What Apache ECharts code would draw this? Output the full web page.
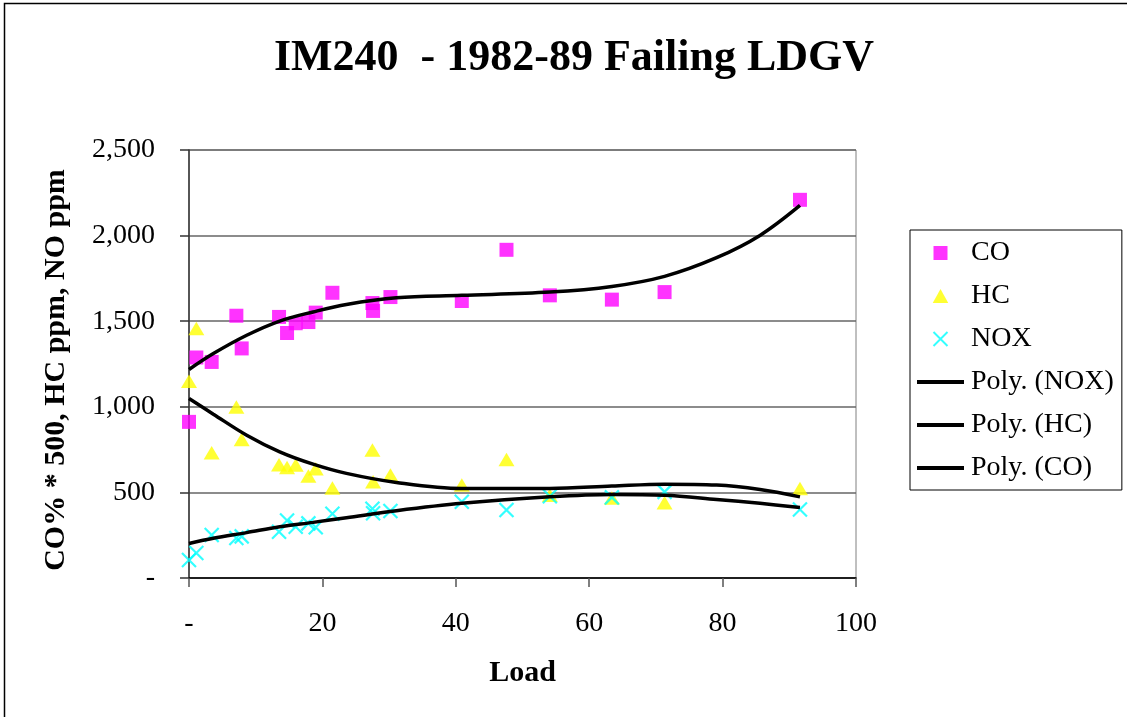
<!DOCTYPE html>
<html><head><meta charset="utf-8">
<script src="https://cdn.jsdelivr.net/npm/echarts@6/dist/echarts.min.js"></script>
<style>html,body{margin:0;padding:0;background:#fff}#c{width:1127px;height:717px}</style>
</head><body><div id="c"></div>
<script>
// Scatter data (Load vs. values)
var loadX = [0, 1.1, 3.4, 7.1, 7.9, 13.5, 14.7, 16.0, 17.9, 19.0, 21.5, 27.5, 27.6, 30.2, 40.9, 47.6, 54.1, 63.4, 71.3, 91.6];
var coVals = [912, 1288, 1262, 1532, 1341, 1525, 1431, 1488, 1495, 1550, 1666, 1606, 1560, 1641, 1618, 1917, 1651, 1626, 1670, 2209];
var hcVals = [1149, 1457, 731, 999, 809, 661, 645, 660, 596, 638, 525, 747, 562, 601, 543, 692, 484, 468, 439, 523];
var noxVals = [105, 146, 251, 234, 243, 270, 336, 299, 319, 296, 375, 405, 378, 391, 445, 397, 478, 471, 503, 400];
// Trend curves
var trendX = [0, 3.65, 8.65, 13.6, 18.6, 23.6, 31.1, 40.9, 54.1, 63.4, 71.3, 79.1, 85.6, 91.6];
var coTrend = [1218, 1311, 1418, 1501, 1554, 1598, 1637, 1651, 1670, 1703, 1762, 1871, 2001, 2176];
var hcTrend = [1048, 957, 834, 737, 665, 611, 558, 523, 523, 537, 548, 543, 517, 474];
var noxTrend = [202, 232, 265, 299, 325, 352, 393, 436, 474, 488, 484, 459, 436, 412];
// Axis ticks
var xTicks = [0, 20, 40, 60, 80, 100];
var yTicks = [0, 500, 1000, 1500, 2000, 2500];
var legendNames = ['CO', 'HC', 'NOX', 'Poly. (NOX)', 'Poly. (HC)', 'Poly. (CO)'];

function pairs(xs, ys) { return xs.map(function (x, i) { return [x, ys[i]]; }); }
function commas(v) { return String(v).replace(/\B(?=(\d{3})+(?!\d))/g, ','); }

var lineIcon = 'path://M0,0H47V4H0Z';
var serif = '"Liberation Serif", "Times New Roman", serif';
var chart = echarts.init(document.getElementById('c'), null, { renderer: 'canvas' });
chart.setOption({
  backgroundColor: '#fff',
  animation: false,
  title: {
    text: 'IM240  - 1982-89 Failing LDGV',
    left: 569, top: 32, textAlign: 'center',
    textStyle: { fontFamily: serif, fontSize: 44, fontWeight: 'bold', color: '#000' }
  },
  graphic: [{
    type: 'rect', silent: true, z: -10,
    shape: { x: 4.5, y: 3.5, width: 1135, height: 730 },
    style: { fill: null, stroke: '#000', lineWidth: 1.5 }
  }],
  legend: {
    orient: 'vertical', left: 910, top: 230,
    padding: [9, 8, 8, 7],
    itemWidth: 47, itemHeight: 14, itemGap: 15,
    borderColor: '#000', borderWidth: 1,
    data: legendNames.map(function (n, i) { return i < 3 ? { name: n } : { name: n, icon: lineIcon }; }),
    textStyle: { fontFamily: serif, fontSize: 28, lineHeight: 28, color: '#000', padding: [0, 0, 0, 2] }
  },
  grid: {
    left: 189, right: 271, top: 150, bottom: 139,
    show: true, borderColor: '#808080', borderWidth: 1, backgroundColor: '#fff'
  },
  xAxis: {
    type: 'value', min: xTicks[0], max: xTicks[xTicks.length - 1], interval: 20,
    name: 'Load', nameLocation: 'middle', nameGap: 80,
    nameTextStyle: { fontFamily: serif, fontSize: 30, fontWeight: 'bold', color: '#000' },
    axisLine: { onZero: false, lineStyle: { color: '#000', width: 1.5 } },
    axisTick: { show: true, inside: false, length: 9, lineStyle: { color: '#555', width: 1.5 } },
    axisLabel: { margin: 32, fontFamily: serif, fontSize: 28, color: '#000',
      formatter: function (v) { return v === 0 ? '-' : String(v); } },
    splitLine: { show: false }
  },
  yAxis: {
    type: 'value', min: yTicks[0], max: yTicks[yTicks.length - 1], interval: 500,
    name: 'CO% * 500, HC ppm, NO ppm', nameLocation: 'middle', nameGap: 118, nameRotate: 90,
    nameTextStyle: { fontFamily: serif, fontSize: 30, fontWeight: 'bold', color: '#000', padding: [0, 12, 0, 0] },
    axisLine: { show: true, onZero: false, lineStyle: { color: '#333', width: 1.5 } },
    axisTick: { show: true, inside: false, length: 9, lineStyle: { color: '#333', width: 1.5 } },
    axisLabel: { margin: 34, fontFamily: serif, fontSize: 28, color: '#000',
      formatter: function (v) { return v === 0 ? '-' : commas(v); } },
    splitLine: { show: true, lineStyle: { color: '#666', width: 1.5 } }
  },
  series: [
    { name: 'CO', type: 'scatter', data: pairs(loadX, coVals),
      symbol: 'path://M0,0H10V10H0Z', symbolSize: 14, symbolKeepAspect: true,
      itemStyle: { color: '#FF00FF' }, z: 3 },
    { name: 'HC', type: 'scatter', data: pairs(loadX, hcVals),
      symbol: 'path://M5,0L10,9H0Z', symbolSize: [16, 15], symbolKeepAspect: true,
      itemStyle: { color: '#FFFF00' }, z: 3 },
    { name: 'NOX', type: 'scatter', data: pairs(loadX, noxVals),
      symbol: 'path://M0,0L10,10M10,0L0,10', symbolSize: 14, symbolKeepAspect: true,
      itemStyle: { color: '#00FFFF', borderColor: '#00FFFF', borderWidth: 2.2 }, z: 3 },
    { name: 'Poly. (NOX)', type: 'line', data: pairs(trendX, noxTrend), smooth: 0.35,
      symbol: 'none', showSymbol: false, lineStyle: { color: '#000', width: 3.5 }, itemStyle: { color: '#000' }, z: 4 },
    { name: 'Poly. (HC)', type: 'line', data: pairs(trendX, hcTrend), smooth: 0.35,
      symbol: 'none', showSymbol: false, lineStyle: { color: '#000', width: 3.5 }, itemStyle: { color: '#000' }, z: 4 },
    { name: 'Poly. (CO)', type: 'line', data: pairs(trendX, coTrend), smooth: 0.35,
      symbol: 'none', showSymbol: false, lineStyle: { color: '#000', width: 3.5 }, itemStyle: { color: '#000' }, z: 4 }
  ]
});
</script></body></html>
